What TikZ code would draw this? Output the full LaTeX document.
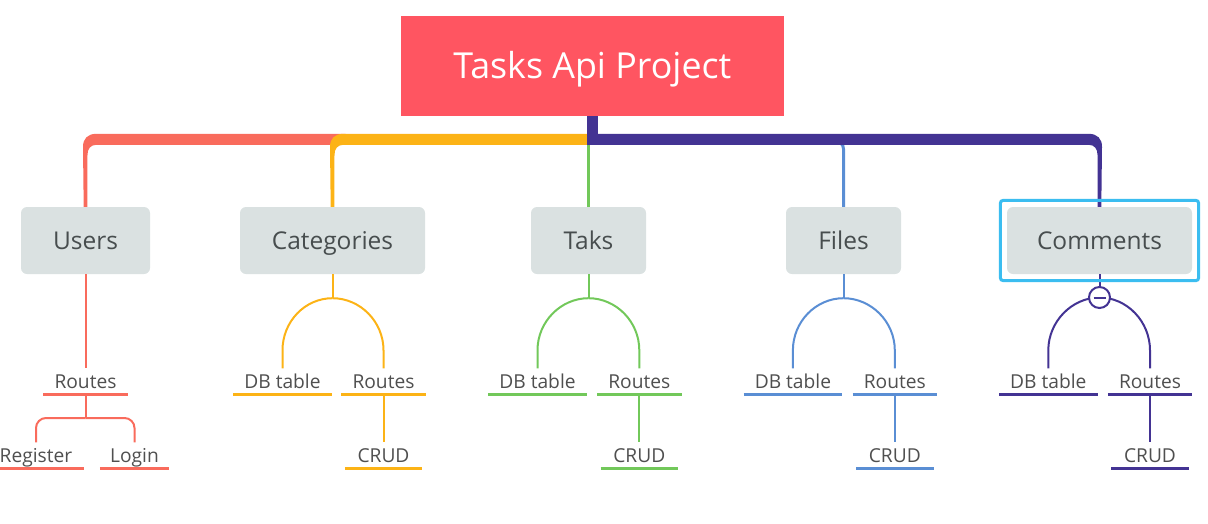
\documentclass[tikz,border=0pt]{standalone}
\usepackage{fontspec}
\setmainfont{Open Sans}
\usetikzlibrary{calc,fit}
\definecolor{cRoot}{HTML}{FF5561}
\definecolor{cGray}{HTML}{DAE1E1}
\definecolor{cRed}{HTML}{F96B5C}
\definecolor{cOrange}{HTML}{FCB316}
\definecolor{cGreen}{HTML}{72C85A}
\definecolor{cBlue}{HTML}{5A8ED4}
\definecolor{cPurple}{HTML}{433393}
\definecolor{cSel}{HTML}{3BBDF0}
\definecolor{cText}{HTML}{474D4E}
\definecolor{cLbl}{HTML}{4F4F4F}

% tapered main branch: #1 colour, #2 target node, #3 bar end x offset, #4 side (1 bar right, -1 bar left)
\newcommand\mmtaper[4]{%
  \fill[#1] ($(#2.north)+(#3,-73)$) -- ($(#2.north)+({#4*11},-73)$)
    .. controls ($(#2.north)+({#4*2},-73)$) and ($(#2.north)+({#4*(-2.5)},-68)$) .. ($(#2.north)+({#4*(-2.5)},-60)$)
    -- ($(#2.north)+({#4*(-1.8)},0)$) -- ($(#2.north)+({#4*1.8},0)$) -- ($(#2.north)+({#4*2},-52)$)
    .. controls ($(#2.north)+({#4*2},-58)$) and ($(#2.north)+({#4*5},-62)$) .. ($(#2.north)+({#4*11},-62)$)
    -- ($(#2.north)+(#3,-62)$) -- cycle;}
% curved split: #1 start coordinate, #2 target node, #3 side (-1 left, 1 right)
\newcommand\mmsplit[3]{%
  (#1) .. controls +({#3*27.6},0) and +(0,-28.7) .. ($(#2.north)+(0,-18)$) -- (#2.north)}

\begin{document}
\begin{tikzpicture}[x=1pt,y=-1pt,
  root/.style={fill=cRoot, text=white, minimum width=383.3pt, minimum height=100pt, inner sep=0pt,
    font=\fontsize{35.8}{42}\selectfont, text height=25.5pt, text depth=0pt},
  topic/.style={fill=cGray, rounded corners=6pt, minimum height=67pt, inner sep=0pt, text=cText,
    font=\fontsize{24.5}{29}\selectfont, text height=17.4pt, text depth=0pt},
  lbl/.style={font=\fontsize{19.2}{23}\selectfont, text=cLbl, text height=13.6pt, text depth=0pt,
    inner ysep=6.2pt, inner xsep=0pt, anchor=south},
  ul/.style={line width=2.5pt},
  sub/.style={line width=2pt},
]
\useasboundingbox (0,0) rectangle (1208,523);

% topics
\node[topic, minimum width=129pt] (users) at (85.5,240.5) {Users};
\node[topic, minimum width=185pt] (categories) at (332.5,240.5) {Categories};
\node[topic, minimum width=115pt] (taks) at (588.5,240.5) {Taks};
\node[topic, minimum width=115pt] (files) at (843.5,240.5) {Files};
\node[topic, minimum width=185pt] (comments) at (1099.5,240.5) {Comments};
\coordinate (hub) at (592.8,140);

% main branches
\mmtaper{cRed}{users}{260}{1}
\mmtaper{cOrange}{categories}{255.5}{1}
\draw[cGreen, line width=2.5pt] (taks.north |- hub) -- (taks.north);
\draw[cBlue, line width=3pt, rounded corners=8pt] ($(files.north |- hub)+(-20,1)$) -| (files.north);
\mmtaper{cPurple}{comments}{-512.5}{-1}
\draw[cPurple, line width=11pt] (592.8,114) -- (592.8,136);
\node[root] (root) at (592.3,66) {Tasks Api Project};

% labels
\node[lbl, minimum width=84pt] (uroutes) at (85.5,394.7) {Routes};
\node[lbl, minimum width=95pt] (register) at (36,468.7) {Register};
\node[lbl, minimum width=69pt] (login) at (134.5,468.7) {Login};

\node[lbl, minimum width=98pt] (cdb) at (282.5,394.7) {DB table};
\node[lbl, minimum width=84pt] (croutes) at (383.5,394.7) {Routes};
\node[lbl, minimum width=77pt] (ccrud) at (383.5,468.7) {CRUD};

\node[lbl, minimum width=98pt] (tdb) at (537.5,394.7) {DB table};
\node[lbl, minimum width=84pt] (troutes) at (639.3,394.7) {Routes};
\node[lbl, minimum width=77pt] (tcrud) at (639.3,468.7) {CRUD};

\node[lbl, minimum width=98pt] (fdb) at (792.9,394.7) {DB table};
\node[lbl, minimum width=84pt] (froutes) at (894.8,394.7) {Routes};
\node[lbl, minimum width=77pt] (fcrud) at (894.8,468.7) {CRUD};

\node[lbl, minimum width=98pt] (mdb) at (1048.3,394.7) {DB table};
\node[lbl, minimum width=84pt] (mroutes) at (1150,394.7) {Routes};
\node[lbl, minimum width=77pt] (mcrud) at (1150,468.7) {CRUD};

% underlines
\foreach \n/\c in {uroutes/cRed, register/cRed, login/cRed,
  cdb/cOrange, croutes/cOrange, ccrud/cOrange,
  tdb/cGreen, troutes/cGreen, tcrud/cGreen,
  fdb/cBlue, froutes/cBlue, fcrud/cBlue,
  mdb/cPurple, mroutes/cPurple, mcrud/cPurple}
  \draw[\c, ul] (\n.south west) -- (\n.south east);

% Users sub-branches
\draw[cRed, sub] (users.south) -- (uroutes.north);
\draw[cRed, sub] (uroutes.south) -- ++(0,23.3) coordinate (usp);
\draw[cRed, sub, rounded corners=10pt] (usp) -| (register.north);
\draw[cRed, sub, rounded corners=10pt] (usp) -| (login.north);

% Categories
\draw[cOrange, sub] (categories.south) -- ++(0,24) coordinate (csp);
\draw[cOrange, sub] \mmsplit{csp}{cdb}{-1};
\draw[cOrange, sub] \mmsplit{csp}{croutes}{1};
\draw[cOrange, sub] (croutes.south) -- (ccrud.north);

% Taks
\draw[cGreen, sub] (taks.south) -- ++(0,24) coordinate (tsp);
\draw[cGreen, sub] \mmsplit{tsp}{tdb}{-1};
\draw[cGreen, sub] \mmsplit{tsp}{troutes}{1};
\draw[cGreen, sub] (troutes.south) -- (tcrud.north);

% Files
\draw[cBlue, sub] (files.south) -- ++(0,24) coordinate (fsp);
\draw[cBlue, sub] \mmsplit{fsp}{fdb}{-1};
\draw[cBlue, sub] \mmsplit{fsp}{froutes}{1};
\draw[cBlue, sub] (froutes.south) -- (fcrud.north);

% Comments
\coordinate (msp) at (1099.5,297.5);
\draw[cPurple, sub] \mmsplit{msp}{mdb}{-1};
\draw[cPurple, sub] \mmsplit{msp}{mroutes}{1};
\draw[cPurple, sub] (mroutes.south) -- (mcrud.north);
\node[circle, draw=cPurple, fill=white, line width=2pt, minimum size=21pt, inner sep=0pt] (mcol) at (msp) {};
\draw[cPurple, line width=2pt] ($(mcol.center)+(-6,0)$) -- ($(mcol.center)+(6,0)$);
\draw[cPurple, sub] (comments.south) -- (mcol.north);

% selection frame
\node[draw=cSel, line width=3pt, rounded corners=3pt, inner sep=6.5pt, fit=(comments)] (sel) {};
\end{tikzpicture}
\end{document}
